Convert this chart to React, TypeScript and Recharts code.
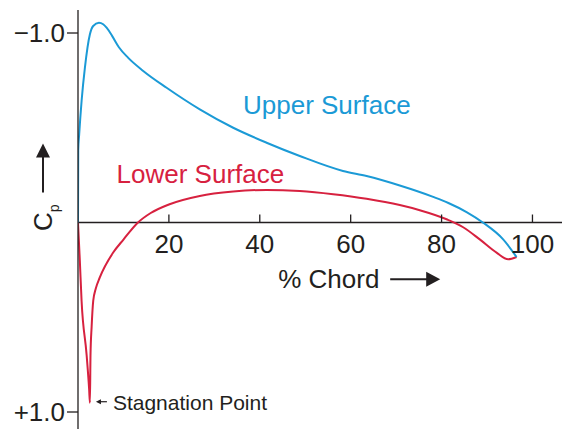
import { ComposedChart, Line, XAxis, YAxis, ReferenceLine, ReferenceDot } from 'recharts'

// pressure coefficient over an airfoil, Cp axis drawn upside down
const upperX = [0, 0.05, 0.26, 0.79, 1.52, 2.62, 3.34, 4.6, 5.54, 6.29, 7.5, 9, 11, 14.35, 19.5, 26.8, 34.15, 41.5, 48.8, 58.3, 63.5, 70.8, 78.15, 81.5, 85.5, 89.15, 93.55, 96.5]
const upperCp = [0, -0.38, -0.465, -0.641, -0.817, -0.993, -1.037, -1.054, -1.046, -1.028, -0.985, -0.925, -0.87, -0.8, -0.711, -0.597, -0.5, -0.421, -0.351, -0.272, -0.245, -0.195, -0.135, -0.103, -0.055, 0.001, 0.089, 0.182]

const lowerX = [0, 0.4, 0.79, 1.9, 2.45, 2.62, 2.75, 3.0, 3.35, 3.9, 4.8, 7.7, 10, 13.2, 16, 20, 26.8, 34.15, 41.5, 48.8, 56.15, 63.5, 70.8, 75.2, 81.1, 84.75, 88.4, 92.1, 94.65, 96.5]
const lowerCp = [0, 0.2, 0.414, 0.7, 0.88, 0.951, 0.7, 0.55, 0.414, 0.35, 0.29, 0.16, 0.09, 0, -0.05, -0.095, -0.14, -0.163, -0.172, -0.166, -0.149, -0.125, -0.092, -0.065, -0.017, 0.025, 0.089, 0.159, 0.194, 0.182]

const chordTicks = [20, 40, 60, 80, 100]
const cpTicks = [-1, 1]
const cpTickLabels = ['\u22121.0', '+1.0']

// where the stagnation point sits (tip of the lower curve)
const stagnation = { x: 2.62, cp: 0.951 }

const upper = upperX.map((x, i) => ({ x, cp: upperCp[i] }))
const lower = lowerX.map((x, i) => ({ x, cp: lowerCp[i] }))

const INK = '#231f20'
const BLUE = '#1b9ad6'
const RED = '#d7213f'
const FONT = '"Liberation Sans", Arial, Helvetica, sans-serif'

const chordTick = (value: number) => (p: any) => (
  <g>
    <line x1={p.cx} y1={p.cy} x2={p.cx} y2={p.cy - 8} stroke={INK} strokeWidth={1.3} />
    <text x={p.cx} y={p.cy + 30} textAnchor='middle' fontSize={26} fontFamily={FONT} fill={INK}>
      {value}
    </text>
  </g>
)

const cpLabel = (p: any) => (
  <g>
    <line x1={p.cx - 35} y1={p.cy - 30} x2={p.cx - 35} y2={p.cy - 66} stroke={INK} strokeWidth={2} />
    <polygon
      points={`${p.cx - 35},${p.cy - 79} ${p.cx - 42},${p.cy - 65} ${p.cx - 28},${p.cy - 65}`}
      fill={INK}
    />
    <text
      x={p.cx - 26}
      y={p.cy + 8.5}
      transform={`rotate(-90 ${p.cx - 26} ${p.cy + 8.5})`}
      fontSize={26}
      fontFamily={FONT}
      fill={INK}
    >
      C<tspan fontSize={14} dy={7}>p</tspan>
    </text>
  </g>
)

const chordLabel = (p: any) => (
  <g>
    <text x={p.cx} y={p.cy} fontSize={26} fontFamily={FONT} fill={INK}>
      % Chord
    </text>
    <line x1={p.cx + 112} y1={p.cy - 9} x2={p.cx + 150} y2={p.cy - 9} stroke={INK} strokeWidth={2} />
    <polygon
      points={`${p.cx + 162},${p.cy - 9} ${p.cx + 148},${p.cy - 16.5} ${p.cx + 148},${p.cy - 1.5}`}
      fill={INK}
    />
  </g>
)

const stagnationLabel = (p: any) => (
  <g>
    <line x1={p.cx + 9} y1={p.cy - 1} x2={p.cx + 17} y2={p.cy - 1} stroke={INK} strokeWidth={1.2} />
    <polygon points={`${p.cx + 6},${p.cy - 1} ${p.cx + 11},${p.cy - 3.5} ${p.cx + 11},${p.cy + 1.5}`} fill={INK} />
    <text x={p.cx + 23} y={p.cy + 7.5} fontSize={21} fontFamily={FONT} fill={INK}>
      Stagnation Point
    </text>
  </g>
)

const seriesLabel = (text: string, color: string) => (p: any) => (
  <text x={p.cx} y={p.cy} fontSize={26} fontFamily={FONT} fill={color}>
    {text}
  </text>
)

export default function App() {
  return (
    <div style={{ position: 'absolute', left: 0, top: 0 }}>
      <ComposedChart width={562} height={429} margin={{ top: 10, right: 0, bottom: 0, left: 0 }}>
        <XAxis type='number' dataKey='x' domain={[0, 106.5]} allowDataOverflow hide />
        <YAxis
          type='number'
          dataKey='cp'
          domain={[-1.1214, 1.0897]}
          allowDataOverflow
          reversed
          ticks={cpTicks}
          interval={0}
          width={78}
          tickSize={11}
          tickFormatter={(v) => cpTickLabels[cpTicks.indexOf(v)]}
          tick={{ fill: INK, fontSize: 26, fontFamily: FONT }}
          tickLine={{ stroke: INK, strokeWidth: 1.3 }}
          axisLine={{ stroke: INK, strokeWidth: 1.3 }}
        />
        <ReferenceLine y={0} stroke={INK} strokeWidth={1.3} />
        {chordTicks.map((t) => (
          <ReferenceDot key={t} x={t} y={0} r={0} ifOverflow='visible' shape={chordTick(t)} />
        ))}
        <ReferenceDot x={0} y={0} r={0} ifOverflow='visible' shape={cpLabel} />
        <ReferenceDot x={44.05} y={0.347} r={0} ifOverflow='visible' shape={chordLabel} />
        <ReferenceDot x={36.3} y={-0.571} r={0} ifOverflow='visible' shape={seriesLabel('Upper Surface', BLUE)} />
        <ReferenceDot x={8.49} y={-0.211} r={0} ifOverflow='visible' shape={seriesLabel('Lower Surface', RED)} />
        <ReferenceDot x={stagnation.x} y={stagnation.cp} r={0} ifOverflow='visible' shape={stagnationLabel} />
        <Line
          data={lower}
          dataKey='cp'
          type='monotone'
          stroke={RED}
          strokeWidth={2}
          dot={false}
          isAnimationActive={false}
        />
        <Line
          data={upper}
          dataKey='cp'
          type='monotone'
          stroke={BLUE}
          strokeWidth={2}
          dot={false}
          isAnimationActive={false}
        />
      </ComposedChart>
    </div>
  )
}
